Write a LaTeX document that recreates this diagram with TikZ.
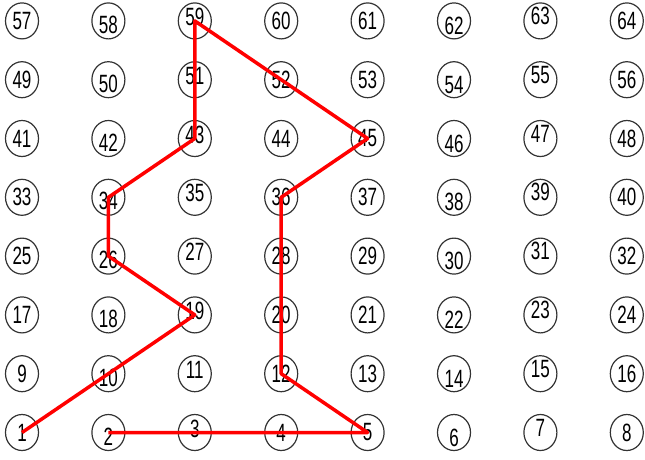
\documentclass[tikz,border=0pt]{standalone}
\usepackage{fontspec}
\usetikzlibrary{shapes.geometric}
\newfontfamily\numfont[FakeStretch=0.68]{Liberation Sans}
\begin{document}
\begin{tikzpicture}[x=1pt,y=1pt,
  cell/.style={draw=black!80,line width=1.2pt,ellipse,minimum width=33pt,minimum height=36pt,inner sep=0pt,font=\numfont\fontsize{25}{25}\selectfont},
  walk/.style={red,line width=3.5pt,line join=round}]
  \useasboundingbox (0,0) rectangle (645,-459);
  \foreach \r in {1,...,8}
    \foreach \c/\dy in {1/0,2/4,3/-4,4/0,5/0,6/5,7/-5,8/0}{
      \pgfmathtruncatemacro{\k}{(\r-1)*8+\c}
      \node[cell] (n\k) at ({22+(\c-1)*86.4},{-432.5+(\r-1)*58.8}) {\raisebox{-\dy pt}[\height][\depth]{\k}};
    }
  \draw[walk] (n1.center) -- (n19.center) -- (n26.center) -- (n34.center) -- (n43.center) -- (n59.center)
    -- (n45.center) -- (n36.center) -- (n12.center) -- (n5.center) -- (n2.center);
\end{tikzpicture}
\end{document}
